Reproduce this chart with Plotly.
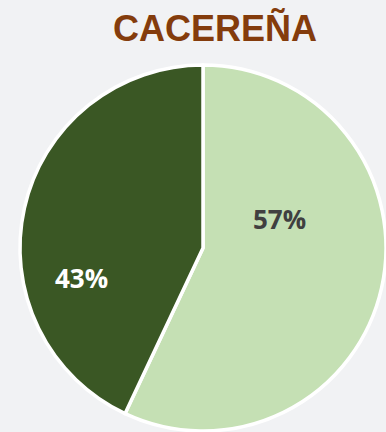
import plotly.graph_objects as go

# Share of each group
labels = ["Grupo A", "Grupo B"]
values = [57, 43]
colors = ["#C5E0B4", "#3A5724"]
text_colors = ["#404040", "#FFFFFF"]
# Label anchor points (paper coords)
label_pos = [(279.5 / 386, 1 - 219 / 432), (81.5 / 386, 1 - 278 / 432)]

W, H = 386, 432

fig = go.Figure(
    go.Pie(
        labels=labels,
        values=values,
        sort=False,
        direction="clockwise",
        rotation=0,
        marker=dict(colors=colors, line=dict(color="#FFFFFF", width=3.5)),
        textinfo="none",
        hoverinfo="label+percent",
        showlegend=False,
        domain=dict(x=[20 / W, 1.0], y=[1 / H, 1 - 65 / H]),
    )
)

total = sum(values)
for v, c, (x, y) in zip(values, text_colors, label_pos):
    fig.add_annotation(
        x=x, y=y, xref="paper", yref="paper",
        text=f"<b>{round(100 * v / total)}%</b>",
        showarrow=False,
        font=dict(family="Open Sans", size=26, color=c),
        xanchor="center", yanchor="middle",
    )

fig.add_annotation(
    x=215 / W, y=1 - 28 / H, xref="paper", yref="paper",
    text="<b>CACEREÑA</b>",
    showarrow=False,
    font=dict(family="Liberation Sans", size=36, color="#843C0C"),
    xanchor="center", yanchor="middle",
)

fig.update_layout(
    width=W, height=H,
    margin=dict(l=0, r=0, t=0, b=0),
    paper_bgcolor="#F1F2F4",
    plot_bgcolor="#F1F2F4",
)

fig.write_html("out.html")
